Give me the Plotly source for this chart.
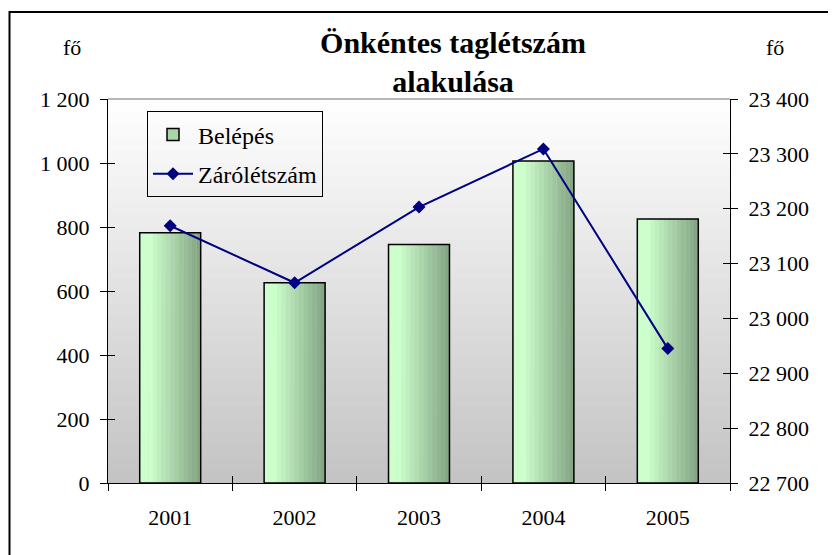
import numpy as np
import plotly.graph_objects as go

# ---- data ----
years = ["2001", "2002", "2003", "2004", "2005"]
belepes = [782, 626, 745, 1006, 825]            # left axis (fő)
zarolétszam = [23169, 23065, 23203, 23309, 22945]  # right axis (fő)
left_ticks = [0, 200, 400, 600, 800, 1000, 1200]
right_ticks = [22700, 22800, 22900, 23000, 23100, 23200, 23300, 23400]

FONT = "Liberation Serif"
W, H = 836, 555
OFF = 8  # page offset of the figure in the screenshot
L, R, T, B = 108 - OFF, W - (730 - OFF), 98.5 - OFF, H - (483 - OFF)
pw, ph = W - L - R, H - T - B


def px(x):
    return (x - OFF - L) / pw


def py(y):
    return (H - B - (y - OFF)) / ph


fig = go.Figure()

# gradient bars built from vertical stripes
bar_w = 0.49
n_str = 14
c0 = np.array([204, 255, 204])
c1 = np.array([132, 166, 132])
for i in range(n_str):
    t = i / (n_str - 1)
    t = max(0.0, (t - 0.15) / 0.85)
    c = (c0 + (c1 - c0) * t).round().astype(int)
    fig.add_trace(go.Bar(
        x=years, y=belepes, width=bar_w / n_str + 0.002,
        offset=-bar_w / 2 + i * bar_w / n_str,
        marker=dict(color=f"rgb({c[0]},{c[1]},{c[2]})", line=dict(width=0)),
        showlegend=False, hoverinfo="skip", xaxis="x", yaxis="y"))
# outline
fig.add_trace(go.Bar(
    x=years, y=belepes, width=bar_w, offset=-bar_w / 2,
    marker=dict(color="rgba(0,0,0,0)", line=dict(color="black", width=1.5)),
    showlegend=False, name="Belépés", xaxis="x", yaxis="y"))
# legend entry
fig.add_trace(go.Bar(
    x=years, y=[None] * len(years), name="Belépés", legendgroup="a",
    marker=dict(color="rgb(170,215,170)", line=dict(color="black", width=1.5)),
    xaxis="x", yaxis="y"))

fig.add_trace(go.Scatter(
    x=years, y=zarolétszam, name="Zárólétszám", mode="lines+markers",
    legendgroup="b",
    line=dict(color="#000080", width=2),
    marker=dict(symbol="diamond", size=10, color="#000080"),
    xaxis="x", yaxis="y2"))

# background gradient (white top -> gray bottom)
n_bg = 60
shapes = []
for i in range(n_bg):
    y0 = i / n_bg
    y1 = (i + 1) / n_bg
    g = int(round(195 + (255 - 195) * (i + 0.5) / n_bg))
    shapes.append(dict(type="rect", xref="x domain", yref="y domain",
                       x0=0, x1=1, y0=y0, y1=y1 + 0.002, layer="below",
                       line=dict(width=0), fillcolor=f"rgb({g},{g},{g})"))
# top border of plot area
shapes.append(dict(type="line", xref="x domain", yref="y domain", x0=0, x1=1,
                   y0=1, y1=1, line=dict(color="#a0a0a0", width=1.5)))
# outer chart frame
shapes.append(dict(type="rect", xref="paper", yref="paper", x0=px(9.5), x1=1.5,
                   y0=-0.5, y1=py(11.5), line=dict(color="black", width=2),
                   fillcolor="rgba(0,0,0,0)"))

tickfont = dict(family=FONT, size=22, color="black")
n = len(years)

fig.update_layout(
    width=W, height=H,
    margin=dict(l=L, r=R, t=T, b=B, autoexpand=False),
    paper_bgcolor="white", plot_bgcolor="rgba(0,0,0,0)",
    barmode="overlay",
    separators=", ",
    font=dict(family=FONT, color="black"),
    title=dict(text="<b>Önkéntes taglétszám<br>alakulása</b>",
               x=(453 - OFF) / W, xanchor="center", y=1 - (53 - OFF) / H,
               yanchor="middle",
               font=dict(family=FONT, size=30, color="black")),
    showlegend=True,
    legend=dict(x=px(147), y=py(111), xanchor="left", yanchor="top",
                bgcolor="rgba(255,255,255,0)", bordercolor="black", borderwidth=1,
                font=dict(family=FONT, size=24, color="black"),
                tracegroupgap=5, itemwidth=40),
    xaxis=dict(type="category", showgrid=False, showline=True, linecolor="black",
               linewidth=1, ticks="outside", ticklen=7, tickcolor="black",
               tickson="boundaries", tickfont=tickfont, ticklabelstandoff=15,
               range=[-0.5, n - 0.5], zeroline=False, fixedrange=True),
    xaxis2=dict(overlaying="x", anchor="y", range=[-0.5, n - 0.5],
                tickvals=list(np.arange(n + 1) - 0.5), ticks="inside", ticklen=7,
                tickcolor="black", showticklabels=False, showgrid=False,
                showline=False, zeroline=False),
    yaxis=dict(range=[0, 1200], tickvals=left_ticks, tickformat=",d",
               showgrid=False, showline=True, linecolor="black", linewidth=1,
               ticks="outside", ticklen=7, tickcolor="black", tickfont=tickfont,
               ticklabelstandoff=6, zeroline=False),
    yaxis2=dict(range=[22700, 23400], tickvals=right_ticks, tickformat=",d",
                overlaying="y", side="right", anchor="x", showgrid=False,
                showline=True, linecolor="black", linewidth=1, ticks="outside",
                ticklen=7, tickcolor="black", tickfont=tickfont,
                ticklabelstandoff=6, zeroline=False),
    yaxis3=dict(range=[0, 1200], tickvals=left_ticks, overlaying="y", anchor="x",
                ticks="inside", ticklen=7, tickcolor="black", showticklabels=False,
                showgrid=False, showline=False, zeroline=False),
    yaxis4=dict(range=[22700, 23400], tickvals=right_ticks, overlaying="y",
                side="right", anchor="x", ticks="inside", ticklen=7,
                tickcolor="black", showticklabels=False, showgrid=False,
                showline=False, zeroline=False),
    shapes=shapes,
    annotations=[
        dict(text="fő", xref="paper", yref="paper", x=px(72), y=py(47),
             showarrow=False, xanchor="center", yanchor="middle",
             font=dict(family=FONT, size=22, color="black")),
        dict(text="fő", xref="paper", yref="paper", x=px(775), y=py(47),
             showarrow=False, xanchor="center", yanchor="middle",
             font=dict(family=FONT, size=22, color="black")),
    ],
)

# invisible helpers so the overlay tick axes are drawn
fig.add_trace(go.Scatter(x=[None], y=[None], xaxis="x2", yaxis="y3",
                         showlegend=False, hoverinfo="skip"))
fig.add_trace(go.Scatter(x=[None], y=[None], xaxis="x2", yaxis="y4",
                         showlegend=False, hoverinfo="skip"))

fig.write_html("out.html")
